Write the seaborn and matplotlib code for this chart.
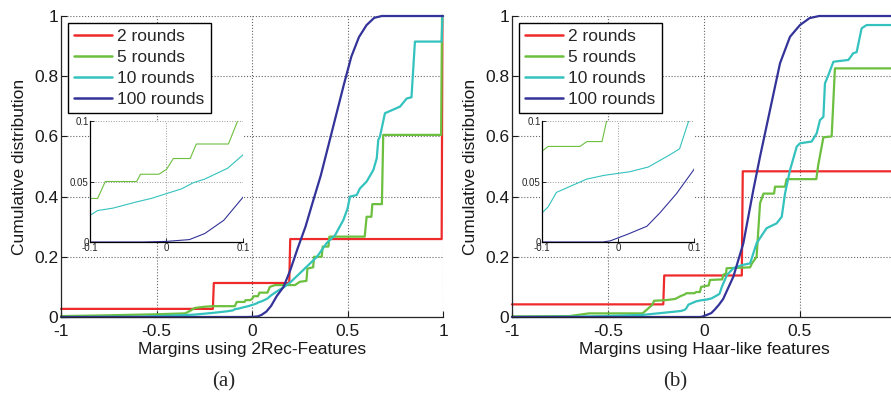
import pandas as pd
import matplotlib
matplotlib.use('Agg')
import matplotlib.pyplot as plt
from matplotlib.lines import Line2D
import seaborn as sns

#---- dados (margem x distribuição acumulada)
rodadas = ['2 rounds', '5 rounds', '10 rounds', '100 rounds']
cores = ['#ee2a2a', '#6cbf3f', '#33c2bd', '#333399']

# painel (a) - 2Rec-Features
a_x_2 = [-1, -0.205, -0.2, 0.195, 0.2, 0.993, 0.997, 1.0]
a_y_2 = [0.027, 0.027, 0.113, 0.113, 0.259, 0.259, 1.0, 1.0]

a_x_5 = [-1, -0.8, -0.65, -0.5, -0.35, -0.32, -0.3, -0.25, -0.2, -0.1, -0.09, -0.08, -0.039, -0.034,
         -0.01, 0.0, 0.009, 0.031, 0.039, 0.081, 0.093, 0.12, 0.225, 0.25, 0.285, 0.29, 0.32, 0.325,
         0.365, 0.37, 0.4, 0.405, 0.59, 0.595, 0.6, 0.625, 0.63, 0.68, 0.687, 0.99, 0.995, 1.0]
a_y_5 = [0.003, 0.005, 0.007, 0.009, 0.012, 0.022, 0.03, 0.034, 0.036, 0.036, 0.036, 0.05, 0.05, 0.056,
         0.056, 0.06, 0.069, 0.069, 0.081, 0.081, 0.1, 0.106, 0.106, 0.117, 0.12, 0.161, 0.165, 0.2,
         0.2, 0.234, 0.234, 0.267, 0.267, 0.3, 0.333, 0.333, 0.375, 0.375, 0.605, 0.605, 1.0, 1.0]

a_x_10 = [-1, -0.6, -0.45, -0.3, -0.2, -0.13, -0.1, -0.09, -0.07, -0.04, -0.02, 0.0, 0.02, 0.035,
          0.05, 0.08, 0.1, 0.13, 0.164, 0.2, 0.25, 0.286, 0.34, 0.39, 0.435, 0.478, 0.5, 0.513,
          0.548, 0.565, 0.6, 0.635, 0.653, 0.661, 0.67, 0.696, 0.714, 0.775, 0.81, 0.835, 0.853,
          0.993, 0.997, 1.0]
a_y_10 = [0.0, 0.001, 0.004, 0.008, 0.014, 0.019, 0.022, 0.026, 0.028, 0.033, 0.036, 0.040, 0.044, 0.049,
          0.052, 0.061, 0.072, 0.085, 0.098, 0.115, 0.145, 0.167, 0.2, 0.245, 0.272, 0.322, 0.36, 0.4,
          0.405, 0.427, 0.45, 0.488, 0.527, 0.588, 0.6, 0.677, 0.682, 0.699, 0.726, 0.73, 0.915,
          0.915, 1.0, 1.0]

a_x_100 = [-1, -0.03, 0.0, 0.03, 0.05, 0.075, 0.1, 0.13, 0.165, 0.2, 0.24, 0.28, 0.32, 0.36, 0.4,
           0.44, 0.48, 0.52, 0.56, 0.6, 0.64, 0.68, 1.0]
a_y_100 = [0.0, 0.0, 0.0005, 0.002, 0.007, 0.018, 0.037, 0.07, 0.1, 0.155, 0.23, 0.3, 0.386, 0.47, 0.57,
           0.67, 0.77, 0.865, 0.93, 0.97, 0.994, 1.0, 1.0]

# painel (b) - Haar-like features
b_x_2 = [-1, -0.212, -0.207, 0.197, 0.202, 1.0]
b_y_2 = [0.042, 0.042, 0.138, 0.138, 0.484, 0.484]

b_x_5 = [-1, -0.7, -0.6, -0.32, -0.3, -0.27, -0.26, -0.2, -0.15, -0.12, -0.1, -0.092, -0.05, -0.041,
         -0.021, -0.015, 0.025, 0.031, 0.095, 0.1, 0.115, 0.118, 0.24, 0.25, 0.274, 0.292, 0.31, 0.365,
         0.37, 0.422, 0.43, 0.585, 0.595, 0.622, 0.665, 0.682, 1.0]
b_y_5 = [0.002, 0.003, 0.012, 0.012, 0.023, 0.04, 0.054, 0.056, 0.06, 0.07, 0.075, 0.079, 0.079, 0.083,
         0.083, 0.1, 0.105, 0.123, 0.125, 0.14, 0.145, 0.162, 0.165, 0.178, 0.2, 0.378, 0.41, 0.41,
         0.433, 0.433, 0.458, 0.458, 0.505, 0.597, 0.6, 0.826, 0.826]

b_x_10 = [-1, -0.7, -0.52, -0.32, -0.18, -0.12, -0.1, -0.092, -0.081, -0.063, -0.041, -0.019, 0.003,
          0.015, 0.04, 0.068, 0.081, 0.093, 0.12, 0.153, 0.2, 0.24, 0.274, 0.326, 0.378, 0.405, 0.422,
          0.448, 0.483, 0.5, 0.561, 0.587, 0.604, 0.622, 0.63, 0.648, 0.674, 0.752, 0.777, 0.795,
          0.821, 0.847, 1.0]
b_y_10 = [0.0, 0.001, 0.003, 0.007, 0.016, 0.02, 0.024, 0.029, 0.041, 0.046, 0.052, 0.055, 0.057,
          0.058, 0.062, 0.072, 0.077, 0.1, 0.14, 0.162, 0.173, 0.178, 0.245, 0.295, 0.311, 0.333, 0.41,
          0.488, 0.566, 0.577, 0.583, 0.61, 0.654, 0.665, 0.776, 0.804, 0.848, 0.854, 0.876, 0.88,
          0.959, 0.97, 0.97]

b_x_100 = [-1, -0.02, -0.01, 0.011, 0.038, 0.055, 0.077, 0.1, 0.125, 0.153, 0.205, 0.257, 0.292,
           0.344, 0.396, 0.448, 0.5, 0.55, 0.6, 1.0]
b_y_100 = [0.0, 0.0, 0.001, 0.006, 0.013, 0.024, 0.04, 0.06, 0.095, 0.134, 0.245, 0.422, 0.533,
           0.688, 0.843, 0.931, 0.97, 0.993, 1.0, 1.0]

xticks = [-1, -0.5, 0, 0.5, 1]
yticks = [0, 0.2, 0.4, 0.6, 0.8, 1]
ins_xticks = [-0.1, 0, 0.1]
ins_yticks = [0, 0.05, 0.1]


def monta_df(xs, ys):
    partes = []
    for nome, x, y in zip(rodadas, xs, ys):
        partes.append(pd.DataFrame({'margem': x, 'cdf': y, 'rodadas': nome}))
    return pd.concat(partes, ignore_index=True)


df_a = monta_df([a_x_2, a_x_5, a_x_10, a_x_100], [a_y_2, a_y_5, a_y_10, a_y_100])
df_b = monta_df([b_x_2, b_x_5, b_x_10, b_x_100], [b_y_2, b_y_5, b_y_10, b_y_100])

#---- estilo
sns.set_theme(style='white')
plt.rcParams['font.family'] = ['Liberation Sans', 'DejaVu Sans']
plt.rcParams['axes.unicode_minus'] = False

fig = plt.figure(figsize=(8.91, 3.97), dpi=100)
paleta = dict(zip(rodadas, cores))


def painel(pos, pos_ins, df, xlabel, xlabels, caption_x, caption):
    ax = fig.add_axes(pos)
    sns.lineplot(data=df, x='margem', y='cdf', hue='rodadas', palette=paleta, estimator=None,
                 sort=False, lw=1.6, legend=False, ax=ax, clip_on=False)
    ax.set_xlim(-1, 1)
    ax.set_ylim(0, 1)
    ax.set_xticks(xticks)
    ax.set_xticklabels(xlabels)
    ax.set_yticks(yticks)
    ax.set_yticklabels(['%g' % t for t in yticks])
    ax.grid(True, ls=':', color='0.4', lw=0.8)
    for s in ['top', 'right']:
        ax.spines[s].set_visible(False)
    for s in ['left', 'bottom']:
        ax.spines[s].set_color('0.15')
        ax.spines[s].set_linewidth(0.9)
    ax.tick_params(direction='in', length=4, width=0.8, labelsize=12.5, pad=2, colors='0.1',
                   left=True, bottom=True)
    ax.tick_params(axis='x', pad=5)
    ax.set_xlabel(xlabel, fontsize=12.5, labelpad=2, color='0.1')
    ax.set_ylabel('Cumulative distribution', fontsize=12.5, labelpad=5, color='0.1')

    handles = [Line2D([0], [0], color=c, lw=1.8) for c in cores]
    leg = ax.legend(handles, rodadas, loc='upper left', fontsize=12.5, frameon=True, fancybox=False,
                    edgecolor='black', framealpha=1, handlelength=2.2, handletextpad=0.3,
                    labelspacing=0.33, borderpad=0.35, borderaxespad=0.4)
    leg.get_frame().set_linewidth(1.0)

    # zoom em torno de zero
    ins = fig.add_axes(pos_ins)
    ins.set_facecolor('white')
    sns.lineplot(data=df, x='margem', y='cdf', hue='rodadas', palette=paleta, estimator=None,
                 sort=False, lw=0.8, legend=False, ax=ins)
    ins.set_xlim(-0.1, 0.1)
    ins.set_ylim(0, 0.1)
    ins.set_xticks(ins_xticks)
    ins.set_xticklabels(['%g' % t for t in ins_xticks])
    ins.set_yticks(ins_yticks)
    ins.set_yticklabels(['%g' % t for t in ins_yticks])
    ins.grid(True, ls=':', color='0.6', lw=0.7)
    for s in ['top', 'right']:
        ins.spines[s].set_visible(False)
    for s in ['left', 'bottom']:
        ins.spines[s].set_color('black')
        ins.spines[s].set_linewidth(0.9)
    ins.tick_params(direction='in', length=3, width=0.7, labelsize=7, pad=1, colors='0.15',
                    left=True, bottom=True)
    ins.set_xlabel('')
    ins.set_ylabel('')

    fig.text(caption_x, 0.038, caption, ha='center', va='center', fontsize=15,
             family=['Liberation Serif', 'DejaVu Serif'])
    return ax


painel([0.0685, 0.2015, 0.4287, 0.7582], [0.101, 0.3904, 0.1717, 0.3048], df_a,
       'Margins using 2Rec-Features', ['%g' % t for t in xticks], 0.251, '(a)')
# no painel (b) o eixo passa da borda da figura, o rótulo "1" fica fora
painel([0.5746, 0.2015, 0.4310, 0.7582], [0.6083, 0.3904, 0.1706, 0.3048], df_b,
       'Margins using Haar-like features', ['%g' % t for t in xticks[:-1]] + [''], 0.758, '(b)')

plt.savefig('out.png', dpi=100)
